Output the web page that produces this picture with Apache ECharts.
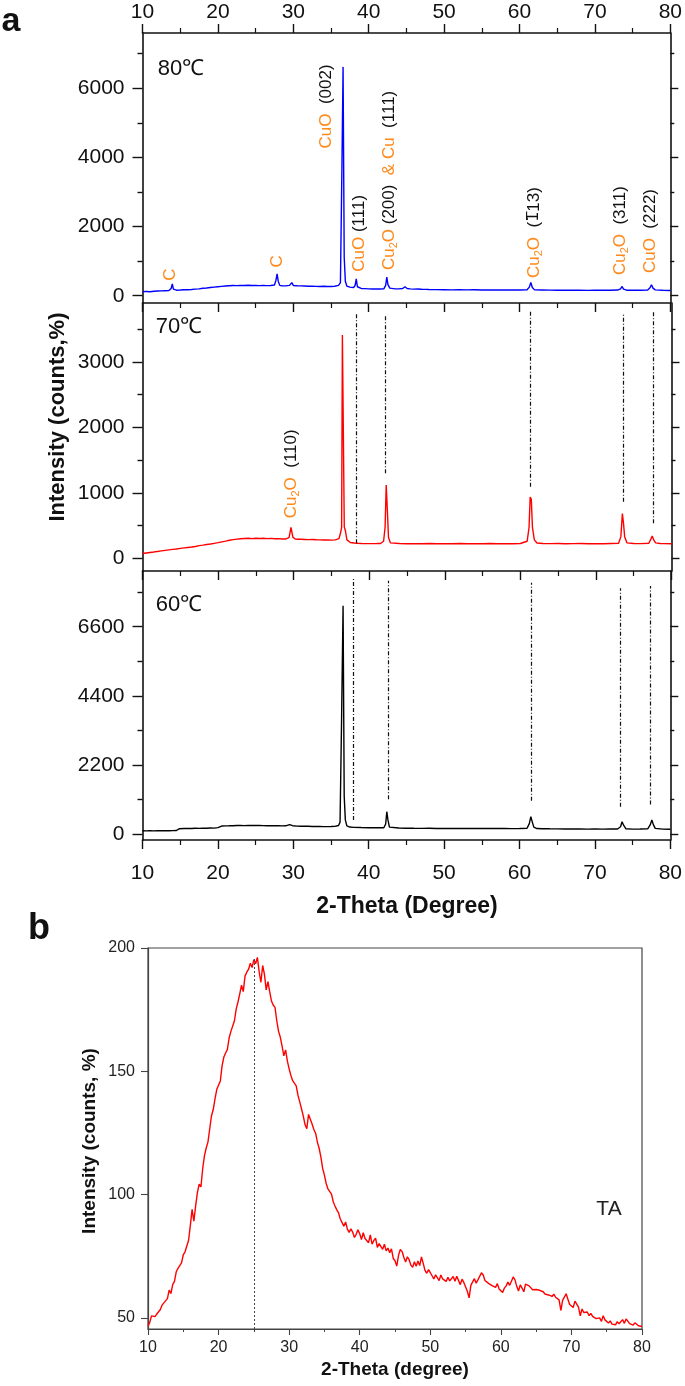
<!DOCTYPE html>
<html><head><meta charset="utf-8">
<script src="https://cdn.jsdelivr.net/npm/echarts@6/dist/echarts.min.js"></script>
<style>html,body{margin:0;padding:0;background:#fff}#c{width:685px;height:1386px}</style>
</head><body><div id="c"></div>
<script>
// ---------- DATA ----------
const xTicks = [10, 20, 30, 40, 50, 60, 70, 80];
const yTicks80 = [0, 2000, 4000, 6000];
const yMinor80 = [1000, 3000, 5000, 7000];
const yTicks70 = [0, 1000, 2000, 3000];
const yMinor70 = [500, 1500, 2500, 3500];
const yTicks60 = [0, 2200, 4400, 6600];
const yMinor60 = [1100, 3300, 5500, 7700];
const yTicksTA = [50, 100, 150, 200];

const xrd80 = [[10,118],[10.5,122],[11,115],[11.5,128],[12,135],[12.5,140],[13,145],[13.5,150],[13.8,210],[13.95,345],[14.1,190],[14.5,160],[15,165],[15.5,172],[16,175],[16.5,182],[17,190],[17.5,198],[18,215],[18.5,225],[19,238],[19.5,250],[20,262],[20.5,272],[21,280],[21.5,288],[22,296],[22.5,292],[23,300],[23.5,296],[24,302],[24.5,295],[25,300],[25.5,294],[26,298],[26.5,292],[27,298],[27.5,310],[27.7,450],[27.85,633],[28,420],[28.2,300],[28.5,288],[29,284],[29.5,300],[29.8,380],[30,298],[30.5,288],[31,284],[31.5,280],[32,276],[32.5,274],[33,270],[33.5,268],[34,274],[34.5,268],[35,266],[35.5,275],[36,300],[36.25,380],[36.45,3750],[36.6,6620],[36.75,1120],[36.9,420],[37.1,280],[37.5,250],[38,238],[38.2,300],[38.35,490],[38.5,260],[39,210],[39.5,205],[40,200],[40.5,197],[41,194],[41.5,196],[42,200],[42.25,300],[42.4,538],[42.55,320],[42.8,220],[43,205],[43.5,200],[44,198],[44.5,210],[44.8,262],[45.1,210],[45.5,200],[46,190],[46.5,195],[47,188],[47.5,184],[48,180],[49,177],[50,174],[51,171],[52,175],[53,169],[54,172],[55,167],[56,170],[57,167],[58,164],[59,168],[60,164],[61,175],[61.3,250],[61.5,383],[61.7,240],[62,170],[63,165],[64,161],[65,159],[66,162],[67,157],[68,160],[69,156],[70,160],[71,157],[72,160],[73,165],[73.4,200],[73.6,268],[73.8,190],[74.2,160],[75,157],[76,160],[77,165],[77.3,230],[77.5,316],[77.7,220],[78,170],[79,157],[80,150]];

const xrd70 = [[10,72],[10.5,80],[11,88],[11.5,95],[12,104],[12.5,112],[13,120],[13.5,128],[14,136],[14.5,142],[15,150],[15.5,158],[16,165],[16.5,172],[17,180],[17.5,192],[18,200],[18.5,210],[19,218],[19.5,228],[20,238],[20.5,250],[21,262],[21.5,275],[22,285],[22.5,292],[23,298],[23.5,302],[24,306],[24.5,300],[25,306],[25.5,301],[26,305],[26.5,299],[27,303],[27.5,297],[28,300],[28.5,295],[29,294],[29.4,320],[29.65,470],[29.9,320],[30.2,295],[30.5,291],[31,289],[31.5,287],[32,285],[32.5,287],[33,283],[33.5,281],[34,279],[34.5,278],[35,277],[35.5,280],[36,300],[36.2,385],[36.35,470],[36.45,3410],[36.58,3390],[36.7,480],[36.85,420],[37.05,280],[37.5,240],[38,232],[38.5,228],[39,226],[40,224],[41,225],[41.5,226],[41.9,260],[42.1,470],[42.25,1119],[42.4,737],[42.55,320],[42.8,235],[43,226],[44,225],[45,221],[46,224],[47,222],[48,225],[49,221],[50,224],[51,222],[52,225],[53,221],[54,224],[55,222],[56,225],[57,221],[58,224],[59,222],[60,225],[60.9,260],[61.15,470],[61.3,936],[61.45,900],[61.6,470],[61.85,280],[62.2,232],[63,226],[64,224],[65,225],[66,222],[67,224],[68,225],[69,222],[70,224],[71,221],[72,225],[73,228],[73.3,330],[73.5,682],[73.65,534],[73.8,330],[74.1,235],[75,225],[76,224],[77,228],[77.3,300],[77.45,340],[77.65,280],[77.9,235],[78.5,226],[79,224],[80,222]];

const xrd60 = [[10,104],[10.5,100],[11,106],[11.5,102],[12,107],[12.5,104],[13,108],[13.5,106],[14,110],[14.5,112],[14.9,170],[15.5,176],[16,180],[16.5,178],[17,183],[17.5,180],[18,186],[18.5,184],[19,190],[19.5,188],[20,205],[20.5,255],[21,260],[21.5,262],[22,266],[22.5,270],[23,272],[23.5,268],[24,275],[24.5,271],[25,270],[25.5,274],[26,268],[26.5,266],[27,268],[27.5,262],[28,265],[28.5,260],[29,262],[29.5,300],[29.7,340],[29.9,265],[30.5,252],[31,250],[31.5,248],[32,246],[32.5,242],[33,240],[33.5,238],[34,236],[34.5,235],[35,238],[35.5,245],[36,270],[36.2,380],[36.4,3600],[36.6,7270],[36.75,1210],[36.9,450],[37.1,260],[37.5,222],[38,212],[39,206],[40,202],[41,198],[42,200],[42.25,320],[42.4,711],[42.55,450],[42.75,220],[43,200],[44,194],[45,185],[46,182],[47,180],[48,182],[49,178],[50,180],[51,177],[52,180],[53,176],[54,178],[55,175],[56,177],[57,174],[58,176],[59,172],[60,175],[61,185],[61.3,330],[61.5,552],[61.7,380],[61.9,220],[62.3,175],[63,170],[64,167],[65,165],[66,162],[67,160],[68,162],[69,157],[70,160],[71,156],[72,158],[73,160],[73.4,230],[73.6,393],[73.8,280],[74.1,170],[75,155],[76,158],[77,165],[77.35,300],[77.55,446],[77.75,300],[78,180],[79,155],[80,150]];

// TA scan: 10 to 80 deg, 0.25 deg step
const TA_START = 10, TA_STEP = 0.25;
const taIntensity = [
46.6,48.2,50.8,50.1, 50.5,51.6,50.9,53.4, 55.2,56.1,55.4,57.8, 61.3,59.9,63.5,64.8, 68.7,70.1,69.5,72.3,
75.6,76.8,76.2,81.5, 87.5,94.0,89.2,95.4, 100.8,104.2,103.1,110.5, 115.8,118.9,121.4,126.8, 132.0,134.6,138.9,142.7,
143.2,146.1,152.3,155.8, 157.4,158.9,163.6,166.2, 165.8,170.5,175.3,178.1, 181.4,184.9,182.3,188.6, 190.2,191.4,193.8,192.1,
195.3,193.6,196.2,190.4, 186.1,192.9,189.3,183.0, 186.4,182.2,178.5,176.8, 175.9,170.4,166.2,163.8, 160.2,156.3,158.7,154.1,
151.0,148.3,146.2,145.4, 144.1,140.3,137.6,134.8, 131.9,128.4,126.7,132.5, 133.3,128.6,126.4,124.9, 121.3,118.8,115.2,110.6,
107.9,104.5,102.3,101.6, 100.2,97.1,95.4,93.8, 92.6,90.1,89.8,87.2, 88.9,86.0,84.7,86.1, 84.8,82.6,83.9,85.7,
84.1,81.8,84.6,82.2, 82.8,80.5,83.7,79.9, 81.4,82.3,78.6,80.1, 79.5,77.8,79.9,77.2, 78.3,76.4,78.0,74.1,
73.2,71.0,75.4,77.8, 76.9,74.6,72.7,74.8, 73.6,71.4,70.5,72.8, 70.9,73.1,71.2,74.7, 72.1,69.3,68.1,69.6,
68.4,67.1,65.8,67.5, 66.3,65.1,67.4,65.8, 66.2,64.8,66.5,65.0, 65.6,66.8,64.9,66.9, 66.1,63.5,65.7,64.4,
64.2,60.8,58.1,63.2, 64.6,65.9,64.1,65.4, 66.0,68.3,67.4,65.2, 65.5,64.0,64.8,63.1, 63.6,62.4,63.9,61.7,
61.9,60.3,62.1,63.0, 64.5,63.2,64.9,66.6, 65.4,62.8,60.9,63.4, 62.1,60.6,63.7,62.9, 63.0,63.8,61.4,62.2,
61.5,60.8,61.2,60.4, 60.6,59.7,60.1,59.3, 59.5,58.7,59.6,58.4, 58.6,57.3,53.0,57.1, 56.9,59.8,57.6,55.4,
55.6,54.2,56.8,57.5, 54.4,50.8,53.6,52.2, 51.6,52.4,50.9,51.8, 50.6,51.3,49.7,50.4, 50.0,48.6,50.9,49.2,
49.4,47.9,48.8,47.5, 48.1,47.2,48.5,47.6, 48.4,49.3,47.8,49.6, 49.1,47.7,48.4,47.1, 48.0,47.5,46.8,47.3,
46.5];
const taPeak = 25, taPeakTop = 196;

// reference lines [2theta, from, to]
const refLines70 = [[38.23,229,3740],[42.11,1298,3715],[61.37,1093,3790],[73.64,864,3740],[77.57,534,3765]];
const refLines60 = [[38.0,446,8173],[42.57,1105,8066],[61.54,1062,8003],[73.35,870,7823],[77.28,944,7896]];

// peak annotations: [2theta, intensity at text start, rich text]
const peaks80 = [
  [13.64, 433, '{o|C}'],
  [27.82, 820, '{o|C}'],
  [34.36, 4260, '{o|CuO}  {k|(002)}'],
  [38.77, 694, '{o|CuO} {k|(111)}'],
  [42.74, 743, '{o|Cu}{s|2}{o|O} {k|(200)}  {o|& Cu}  {k|(111)}'],
  [61.92, 512, '{o|Cu}{s|2}{o|O}  {k|(}{b|1\u0305}{k|13)}'],
  [73.39, 598, '{o|Cu}{s|2}{o|O}  {k|(311)}'],
  [77.35, 656, '{o|CuO}  {k|(222)}']
];
const peaks70 = [
  [29.73, 611, '{o|Cu}{s|2}{o|O}  {k|(110)}']
];

// ---------- CHART ----------
const NUM_FONT = "'Liberation Sans Narrow', 'Liberation Sans', Arial, sans-serif";
const SANS = "'Liberation Sans', Arial, sans-serif";
const ORANGE = '#FF8A1C';
const AX = '#111';
const AXB = '#444';

const chart = echarts.init(document.getElementById('c'), null, {renderer: 'canvas'});

const PANEL_L = 142.5, PANEL_W = 529;
const grids = [
  {left: PANEL_L, top: 33, width: PANEL_W, height: 270},
  {left: PANEL_L, top: 303, width: PANEL_W, height: 268},
  {left: PANEL_L, top: 571, width: PANEL_W, height: 269},
  {left: 148, top: 948, width: 494, height: 381, show: true, borderColor: AXB, borderWidth: 1.2}
];

function xAx(grid, pos, showLabel) {
  return {
    type: 'value', gridIndex: grid, position: pos, min: xTicks[0], max: xTicks[xTicks.length - 1], interval: 10,
    axisLine: {show: true, onZero: false, lineStyle: {color: AX, width: 1.6}},
    axisTick: {show: true, inside: false, length: 9, lineStyle: {color: AX, width: 1.4}},
    minorTick: {show: true, splitNumber: 2, length: 5, lineStyle: {color: AX, width: 1.2}},
    axisLabel: {show: showLabel, fontSize: 21, fontFamily: NUM_FONT, color: '#111',
      margin: pos === 'top' ? 10 : 23, formatter: v => String(v), showMinLabel: true, showMaxLabel: true},
    splitLine: {show: false}, minorSplitLine: {show: false}
  };
}
function yAx(grid, pos, min, max, ticks, len, showLabel, showLine) {
  return {
    type: 'value', gridIndex: grid, position: pos, min: min, max: max,
    axisLine: {show: showLine, onZero: false, lineStyle: {color: AX, width: 1.6}},
    axisTick: {show: true, inside: false, length: len, customValues: ticks, lineStyle: {color: AX, width: 1.4}},
    axisLabel: {show: showLabel, customValues: ticks, fontSize: 21, fontFamily: NUM_FONT, color: '#111',
      margin: 18, formatter: v => String(v)},
    splitLine: {show: false}
  };
}
function panelY(grid, min, max, major, minor) {
  return [
    yAx(grid, 'left', min, max, major, 10, true, true),
    yAx(grid, 'left', min, max, minor, 5, false, false),
    yAx(grid, 'right', min, max, major, 8, false, true),
    yAx(grid, 'right', min, max, minor, 4, false, false)
  ];
}

const xAxes = [
  xAx(0, 'bottom', false),
  xAx(0, 'top', true),
  xAx(1, 'bottom', false),
  xAx(2, 'bottom', true),
  {
    type: 'value', gridIndex: 3, position: 'bottom', min: 10, max: 80, interval: 10,
    axisLine: {show: true, onZero: false, lineStyle: {color: AXB, width: 1.2}},
    axisTick: {show: true, length: 6, lineStyle: {color: AXB, width: 1.1}},
    minorTick: {show: true, splitNumber: 2, length: 3, lineStyle: {color: AXB, width: 1}},
    axisLabel: {fontSize: 16, fontFamily: SANS, color: '#222', margin: 11, formatter: v => String(v), showMinLabel: true, showMaxLabel: true},
    splitLine: {show: false}, minorSplitLine: {show: false}
  }
];
const yAxes = [].concat(
  panelY(0, -210, 7600, yTicks80, yMinor80),
  panelY(1, -195, 3900, yTicks70, yMinor70),
  panelY(2, -190, 8374, yTicks60, yMinor60),
  [{
    type: 'value', gridIndex: 3, position: 'left', min: 45.5, max: 200,
    axisLine: {show: true, onZero: false, lineStyle: {color: AXB, width: 1.2}},
    axisTick: {show: true, length: 7, customValues: yTicksTA, lineStyle: {color: AXB, width: 1.1}},
    axisLabel: {customValues: yTicksTA, fontSize: 16, fontFamily: SANS, color: '#222', margin: 13, formatter: v => String(v)},
    splitLine: {show: false}
  }]
);

function refMark(lines) {
  return {
    silent: true, symbol: ['none', 'none'], animation: false,
    label: {show: false},
    lineStyle: {type: [4, 2, 1, 2], color: '#111', width: 1.2},
    data: lines.map(l => [{coord: [l[0], l[1]]}, {coord: [l[0], l[2]]}])
  };
}

const taData = taIntensity.map((v, i) => [TA_START + i * TA_STEP, v]);

const series = [
  {type: 'line', xAxisIndex: 0, yAxisIndex: 0, data: xrd80, showSymbol: false, symbol: 'none',
    lineStyle: {color: '#0000FF', width: 1.4}, animation: false, z: 3},
  {type: 'line', xAxisIndex: 2, yAxisIndex: 4, data: xrd70, showSymbol: false, symbol: 'none',
    lineStyle: {color: '#FF0000', width: 1.4}, animation: false, z: 3, markLine: refMark(refLines70)},
  {type: 'line', xAxisIndex: 3, yAxisIndex: 8, data: xrd60, showSymbol: false, symbol: 'none',
    lineStyle: {color: '#000000', width: 1.4}, animation: false, z: 3, markLine: refMark(refLines60)},
  {type: 'line', xAxisIndex: 4, yAxisIndex: 12, data: taData, showSymbol: false, symbol: 'none',
    lineStyle: {color: '#FF0000', width: 1.4}, animation: false, z: 3,
    markLine: {silent: true, symbol: ['none', 'none'], animation: false, label: {show: false},
      lineStyle: {type: [2, 2], color: '#444', width: 1},
      data: [[{coord: [taPeak, 45.5]}, {coord: [taPeak, taPeakTop]}]]}}
];

chart.setOption({
  animation: false,
  backgroundColor: '#fff',
  grid: grids,
  xAxis: xAxes,
  yAxis: yAxes,
  series: series
});

// ---------- TEXT ----------
const rich = {
  o: {fill: ORANGE, fontSize: 17, fontFamily: SANS, lineHeight: 20},
  k: {fill: '#111', fontSize: 17, fontFamily: SANS, lineHeight: 20},
  b: {fill: '#111', fontSize: 16, fontFamily: "'DejaVu Sans', sans-serif", lineHeight: 20},
  s: {fill: ORANGE, fontSize: 11, fontFamily: SANS, lineHeight: 20, verticalAlign: 'bottom'}
};
function peakText(list, yAxisIndex, xAxisIndex) {
  return list.map(p => {
    const pt = chart.convertToPixel({xAxisIndex: xAxisIndex, yAxisIndex: yAxisIndex}, [p[0], p[1]]);
    return {
      type: 'text', x: pt[0], y: pt[1], rotation: Math.PI / 2, silent: true, z: 10,
      style: {text: p[2], rich: rich, fontSize: 17, fontFamily: SANS, fill: '#111', align: 'left', verticalAlign: 'middle'}
    };
  });
}
function txt(x, y, text, font, opts) {
  return Object.assign({
    type: 'text', x: x, y: y, silent: true, z: 10,
    style: Object.assign({text: text, font: font, fill: '#111', align: 'center', verticalAlign: 'middle'}, (opts && opts.style) || {})
  }, opts && opts.rotation ? {rotation: opts.rotation} : {});
}

const graphics = [].concat(
  [
    txt(11, 22, 'a', "bold 34px 'Liberation Sans', Arial, sans-serif"),
    txt(39, 929, 'b', "bold 36px 'Liberation Sans', Arial, sans-serif"),
    txt(181, 69, '80\u2103', "22px " + NUM_FONT),
    txt(179, 327, '70\u2103', "22px " + NUM_FONT),
    txt(179, 605, '60\u2103', "22px " + NUM_FONT),
    txt(58, 417, 'Intensity (counts,%)', "bold 22px 'Liberation Sans', Arial, sans-serif", {rotation: Math.PI / 2}),
    txt(407, 907, '2-Theta (Degree)', "bold 23px 'Liberation Sans', Arial, sans-serif"),
    txt(90, 1141, 'Intensity (counts, %)', "bold 19px 'Liberation Sans', Arial, sans-serif", {rotation: Math.PI / 2}),
    txt(395, 1370, '2-Theta (degree)', "bold 19px 'Liberation Sans', Arial, sans-serif"),
    txt(609, 1209, 'TA', "21px 'Liberation Sans', Arial, sans-serif", {style: {fill: '#222'}})
  ],
  peakText(peaks80, 0, 0),
  peakText(peaks70, 4, 2)
);
chart.setOption({graphic: graphics});
</script></body></html>
